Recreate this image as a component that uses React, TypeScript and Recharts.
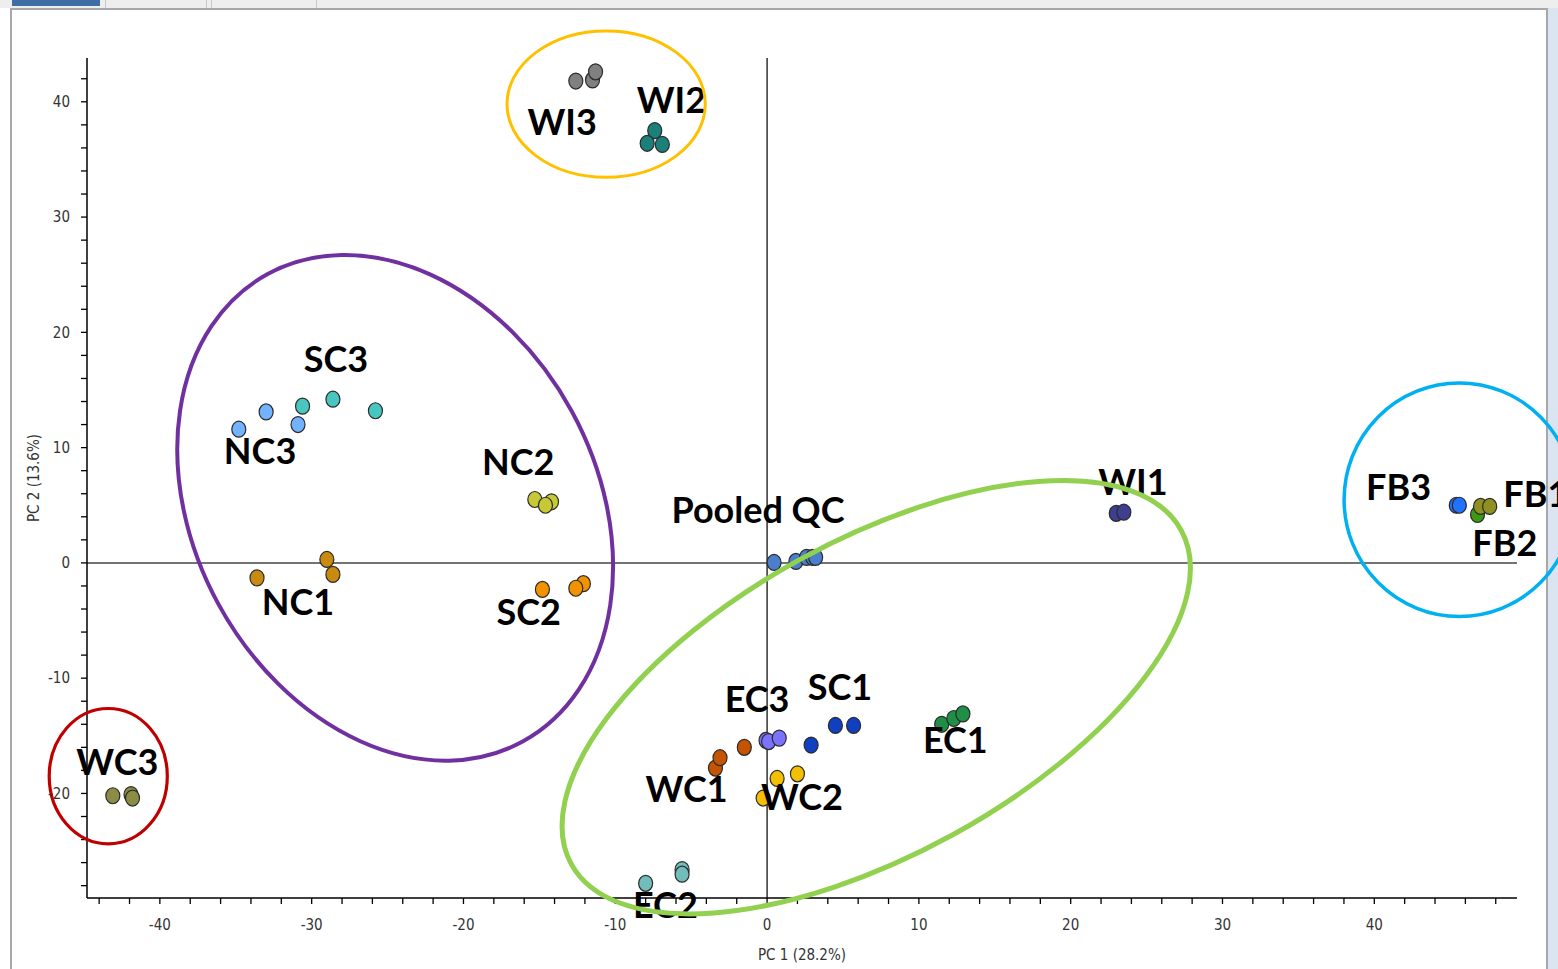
import React from 'react';
import {
  ScatterChart,
  Scatter,
  XAxis,
  YAxis,
  ReferenceLine,
  ReferenceArea,
  ReferenceDot,
  Label,
} from 'recharts';

// sample scores (PC1, PC2)
const WI3 = [{ x: -12.6, y: 41.8 }, { x: -11.5, y: 41.9 }, { x: -11.3, y: 42.6 }];
const WI2 = [{ x: -7.4, y: 37.5 }, { x: -7.9, y: 36.4 }, { x: -6.9, y: 36.3 }];
const NC3 = [{ x: -34.8, y: 11.6 }, { x: -33.0, y: 13.1 }, { x: -30.9, y: 12.0 }];
const SC3 = [{ x: -30.6, y: 13.6 }, { x: -28.6, y: 14.2 }, { x: -25.8, y: 13.2 }];
const NC2 = [{ x: -15.3, y: 5.5 }, { x: -14.2, y: 5.3 }, { x: -14.6, y: 5.0 }];
const NC1 = [{ x: -33.6, y: -1.3 }, { x: -29.0, y: 0.3 }, { x: -28.6, y: -1.0 }];
const SC2 = [{ x: -14.8, y: -2.3 }, { x: -12.1, y: -1.8 }, { x: -12.6, y: -2.2 }];
const WC3 = [{ x: -43.1, y: -20.2 }, { x: -41.9, y: -20.1 }, { x: -41.8, y: -20.4 }];
const EC2 = [{ x: -8.0, y: -27.8 }, { x: -5.6, y: -26.6 }, { x: -5.6, y: -27.0 }];
const WC1 = [{ x: -3.4, y: -17.8 }, { x: -3.1, y: -16.9 }, { x: -1.5, y: -16.0 }];
const EC3 = [{ x: -0.07, y: -15.4 }, { x: 0.1, y: -15.5 }, { x: 0.8, y: -15.2 }];
const WC2 = [{ x: -0.26, y: -20.4 }, { x: 0.66, y: -18.7 }, { x: 2.0, y: -18.3 }];
const SC1 = [{ x: 2.9, y: -15.8 }, { x: 4.5, y: -14.1 }, { x: 5.7, y: -14.1 }];
const EC1 = [{ x: 11.5, y: -14.0 }, { x: 12.3, y: -13.5 }, { x: 12.9, y: -13.1 }];
const POOLED_QC = [
  { x: 0.46, y: 0.04 }, { x: 1.9, y: 0.13 }, { x: 2.6, y: 0.48 },
  { x: 3.0, y: 0.48 }, { x: 3.2, y: 0.48 },
];
const WI1 = [{ x: 23.0, y: 4.3 }, { x: 23.5, y: 4.4 }];
const FB3 = [{ x: 45.4, y: 5.0 }, { x: 45.6, y: 5.0 }];
const FB2 = [{ x: 46.8, y: 4.2 }];
const FB1 = [{ x: 47.0, y: 4.9 }, { x: 47.6, y: 4.9 }];

const series = [
  { name: 'WI3', data: WI3 }, { name: 'WI2', data: WI2 },
  { name: 'NC3', data: NC3 }, { name: 'SC3', data: SC3 },
  { name: 'NC2', data: NC2 }, { name: 'NC1', data: NC1 },
  { name: 'SC2', data: SC2 }, { name: 'WC3', data: WC3 },
  { name: 'EC2', data: EC2 }, { name: 'WC1', data: WC1 },
  { name: 'EC3', data: EC3 }, { name: 'WC2', data: WC2 },
  { name: 'SC1', data: SC1 }, { name: 'EC1', data: EC1 },
  { name: 'Pooled QC', data: POOLED_QC }, { name: 'WI1', data: WI1 },
  { name: 'FB3', data: FB3 }, { name: 'FB2', data: FB2 },
  { name: 'FB1', data: FB1 },
];

const colors: Record<string, string> = {
  WI3: '#808080', WI2: '#1b7f7a', NC3: '#72b2ff', SC3: '#48c6c0',
  NC2: '#c6c836', NC1: '#c98a10', SC2: '#f39200', WC3: '#8c8c44',
  EC2: '#73bcbc', WC1: '#c45400', EC3: '#7b73ff', WC2: '#f2c000',
  SC1: '#1040c0', EC1: '#1f8f45', 'Pooled QC': '#4a7fcc', WI1: '#3f3f8f',
  FB3: '#2272ff', FB2: '#3a9a12', FB1: '#909020',
};

// group labels, centre of the text in data units
const labels = [
  { text: 'WI3', x: -13.5, y: 38.3, anchor: 'middle' },
  { text: 'WI2', x: -6.3, y: 40.2, anchor: 'middle' },
  { text: 'SC3', x: -28.4, y: 17.8, anchor: 'middle' },
  { text: 'NC3', x: -33.4, y: 9.8, anchor: 'middle' },
  { text: 'NC2', x: -16.4, y: 8.8, anchor: 'middle' },
  { text: 'NC1', x: -30.9, y: -3.3, anchor: 'middle' },
  { text: 'SC2', x: -15.7, y: -4.2, anchor: 'middle' },
  { text: 'Pooled QC', x: -0.6, y: 4.65, anchor: 'middle' },
  { text: 'WI1', x: 24.1, y: 7.1, anchor: 'middle' },
  { text: 'FB3', x: 41.6, y: 6.65, anchor: 'middle' },
  { text: 'FB1', x: 48.5, y: 6.1, anchor: 'start' },
  { text: 'FB2', x: 48.6, y: 1.8, anchor: 'middle' },
  { text: 'EC3', x: -0.66, y: -11.7, anchor: 'middle' },
  { text: 'SC1', x: 4.8, y: -10.65, anchor: 'middle' },
  { text: 'EC1', x: 12.4, y: -15.3, anchor: 'middle' },
  { text: 'WC1', x: -5.3, y: -19.5, anchor: 'middle' },
  { text: 'WC2', x: 2.3, y: -20.2, anchor: 'middle' },
  { text: 'WC3', x: -42.8, y: -17.2, anchor: 'middle' },
  { text: 'EC2', x: -6.7, y: -29.6, anchor: 'middle' },
];

// cluster rings: centre and half-axes in data units, tilt in degrees
const clusters = [
  { id: 'wi', x: -10.6, y: 39.8, rx: 6.53, ry: 6.35, tilt: 0 },
  { id: 'north', x: -24.5, y: 4.78, rx: 13.26, ry: 23.1, tilt: -28.6 },
  { id: 'wc3', x: -43.4, y: -18.5, rx: 3.89, ry: 5.87, tilt: 0 },
  { id: 'east', x: 7.19, y: -11.65, rx: 22.9, ry: 13.66, tilt: -28.7 },
  { id: 'fb', x: 45.6, y: 5.48, rx: 7.59, ry: 10.13, tilt: 0 },
];
const ringStyle: Record<string, { color: string; width: number }> = {
  wi: { color: '#ffc000', width: 3 },
  north: { color: '#7030a0', width: 4 },
  wc3: { color: '#c00000', width: 3.2 },
  east: { color: '#92d050', width: 5 },
  fb: { color: '#00b0f0', width: 3.5 },
};

const xTicks = [-44, -42, -40, -38, -36, -34, -32, -30, -28, -26, -24, -22, -20, -18, -16, -14, -12, -10, -8, -6, -4, -2, 0, 2, 4, 6, 8, 10, 12, 14, 16, 18, 20, 22, 24, 26, 28, 30, 32, 34, 36, 38, 40, 42, 44, 46, 48];
const yTicks = [-28, -26, -24, -22, -20, -18, -16, -14, -12, -10, -8, -6, -4, -2, 0, 2, 4, 6, 8, 10, 12, 14, 16, 18, 20, 22, 24, 26, 28, 30, 32, 34, 36, 38, 40, 42];

const axisFont = '"Liberation Sans Narrow", "DejaVu Sans Condensed", Arial, sans-serif';
const labelFont = 'Lato, "Open Sans", sans-serif';

const tenOnly = (v: number) => (v % 10 === 0 ? String(v) : '');

const dotShape = (color: string) => (props: any) => (
  <ellipse cx={props.cx} cy={props.cy} rx={7} ry={8} fill={color} stroke="#2b2b2b" strokeWidth={1.2} />
);

const textShape = (text: string, anchor: string) => (props: any) => (
  <text
    x={props.cx}
    y={props.cy}
    textAnchor={anchor}
    dominantBaseline="central"
    fontFamily={labelFont}
    fontWeight={700}
    fontSize={36}
    fill="#000"
  >
    {text}
  </text>
);

const ringShape = (id: string, tilt: number) => (props: any) => {
  const w = Math.abs(props.width);
  const h = Math.abs(props.height);
  const cx = Math.min(props.x, props.x + props.width) + w / 2;
  const cy = Math.min(props.y, props.y + props.height) + h / 2;
  const st = ringStyle[id];
  return (
    <ellipse
      cx={cx}
      cy={cy}
      rx={w / 2}
      ry={h / 2}
      fill="none"
      stroke={st.color}
      strokeWidth={st.width}
      transform={`rotate(${tilt} ${cx} ${cy})`}
    />
  );
};

export default function App() {
  return (
    <div style={{ position: 'absolute', left: 0, top: 0, width: 1558, height: 969, background: '#fff', overflow: 'hidden' }}>
      <div style={{ position: 'absolute', left: 0, top: 0, width: 1558, height: 8, background: '#eeeeee' }} />
      <div style={{ position: 'absolute', left: 12, top: 0, width: 88, height: 6, background: '#3f6ea6' }} />
      <div style={{ position: 'absolute', left: 105, top: 0, width: 1, height: 8, background: '#c8c8c8' }} />
      <div style={{ position: 'absolute', left: 206, top: 0, width: 1, height: 8, background: '#c8c8c8' }} />
      <div style={{ position: 'absolute', left: 211, top: 0, width: 1, height: 8, background: '#c8c8c8' }} />
      <div style={{ position: 'absolute', left: 316, top: 0, width: 1, height: 8, background: '#c8c8c8' }} />
      <div
        style={{
          position: 'absolute', left: 10, top: 8, width: 1534, height: 980,
          borderLeft: '2px solid #a8a8a8', borderTop: '2px solid #a8a8a8', borderRight: '2px solid #a8a8a8',
        }}
      />
      <div style={{ position: 'absolute', left: 1548, top: 8, width: 10, height: 961, background: '#dbe5f1' }} />
      <div style={{ position: 'absolute', left: 0, top: 0 }}>
        <ScatterChart width={1558} height={969} margin={{ top: 58, right: 41, bottom: 1, left: 7 }}>
          <XAxis
            type="number"
            dataKey="x"
            domain={[-44.8, 49.4]}
            ticks={xTicks}
            interval={0}
            tickFormatter={tenOnly}
            height={70}
            tickSize={6}
            tickMargin={15}
            axisLine={{ stroke: '#000', strokeWidth: 1.5 }}
            tickLine={{ stroke: '#000', strokeWidth: 1.3 }}
            tick={{ fill: '#333', fontSize: 15, fontFamily: axisFont }}
          >
            <Label
              value="PC 1 (28.2%)"
              position="insideBottom"
              offset={8}
              style={{ fill: '#333', fontSize: 15, fontFamily: axisFont }}
            />
          </XAxis>
          <YAxis
            type="number"
            dataKey="y"
            domain={[-29.07, 43.8]}
            ticks={yTicks}
            interval={0}
            tickFormatter={tenOnly}
            width={80}
            tickSize={6}
            tickMargin={11}
            axisLine={{ stroke: '#000', strokeWidth: 1.5 }}
            tickLine={{ stroke: '#000', strokeWidth: 1.3 }}
            tick={{ fill: '#333', fontSize: 15, fontFamily: axisFont }}
          >
            <Label
              value="PC 2 (13.6%)"
              angle={-90}
              position="insideLeft"
              offset={27}
              style={{ textAnchor: 'middle', fill: '#333', fontSize: 15, fontFamily: axisFont }}
            />
          </YAxis>
          <ReferenceLine x={0} stroke="#111" strokeWidth={1.3} />
          <ReferenceLine y={0} stroke="#444" strokeWidth={1.5} />
          {series.map((s) => (
            <Scatter
              key={s.name}
              name={s.name}
              data={s.data}
              shape={dotShape(colors[s.name])}
              isAnimationActive={false}
            />
          ))}
          {labels.map((l) => (
            <ReferenceDot
              key={l.text}
              x={l.x}
              y={l.y}
              r={1}
              ifOverflow="visible"
              zIndex={700}
              shape={textShape(l.text, l.anchor)}
            />
          ))}
          {clusters.map((c) => (
            <ReferenceArea
              key={c.id}
              x1={c.x - c.rx}
              x2={c.x + c.rx}
              y1={c.y - c.ry}
              y2={c.y + c.ry}
              ifOverflow="visible"
              zIndex={800}
              shape={ringShape(c.id, c.tilt)}
            />
          ))}
        </ScatterChart>
      </div>
    </div>
  );
}
